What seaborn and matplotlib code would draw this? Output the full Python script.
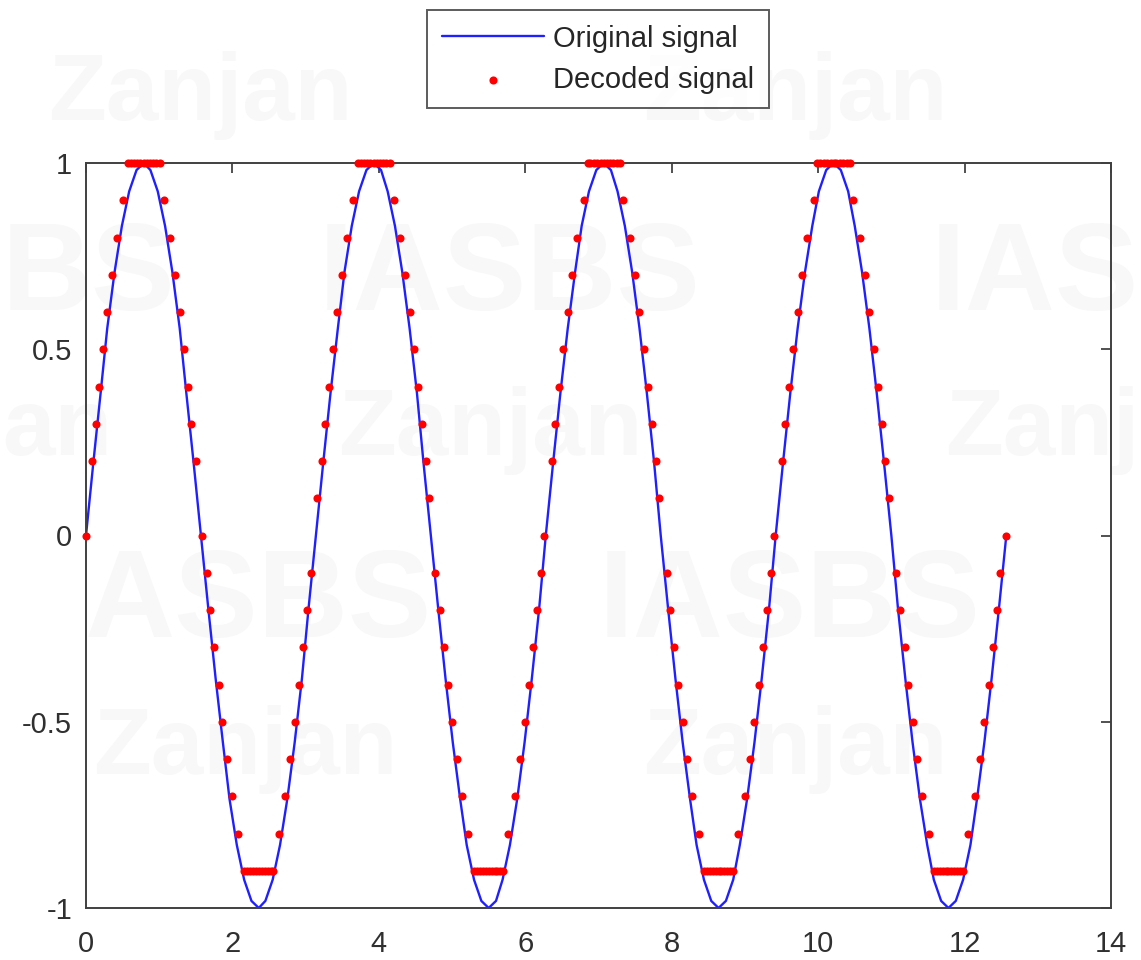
#!/usr/bin/env python3

import matplotlib
matplotlib.use('Agg')
import matplotlib.pyplot as plt     # drawing
import seaborn as sns               # plotting
import pandas as pd                 # data handling


# Original signal, sampled along the time axis
orig_t = [0.00, 0.10, 0.20, 0.29, 0.39, 0.49, 0.59, 0.69, 0.79, 0.88, 0.98, 1.08, 1.18, 1.28, 1.37, 1.47,
          1.57, 1.67, 1.77, 1.87, 1.96, 2.06, 2.16, 2.26, 2.36, 2.45, 2.55, 2.65, 2.75, 2.85, 2.95, 3.04,
          3.14, 3.24, 3.34, 3.44, 3.53, 3.63, 3.73, 3.83, 3.93, 4.03, 4.12, 4.22, 4.32, 4.42, 4.52, 4.61,
          4.71, 4.81, 4.91, 5.01, 5.11, 5.20, 5.30, 5.40, 5.50, 5.60, 5.69, 5.79, 5.89, 5.99, 6.09, 6.19,
          6.28, 6.38, 6.48, 6.58, 6.68, 6.77, 6.87, 6.97, 7.07, 7.17, 7.26, 7.36, 7.46, 7.56, 7.66, 7.76,
          7.85, 7.95, 8.05, 8.15, 8.25, 8.34, 8.44, 8.54, 8.64, 8.74, 8.84, 8.93, 9.03, 9.13, 9.23, 9.33,
          9.42, 9.52, 9.62, 9.72, 9.82, 9.92, 10.01, 10.11, 10.21, 10.31, 10.41, 10.50, 10.60, 10.70, 10.80, 10.90,
          11.00, 11.09, 11.19, 11.29, 11.39, 11.49, 11.58, 11.68, 11.78, 11.88, 11.98, 12.08, 12.17, 12.27, 12.37, 12.47,
          12.57]
orig_y = [0, 0.195, 0.383, 0.556, 0.707, 0.831, 0.924, 0.981, 1, 0.981, 0.924, 0.831, 0.707, 0.556, 0.383, 0.195,
          0, -0.195, -0.383, -0.556, -0.707, -0.831, -0.924, -0.981, -1, -0.981, -0.924, -0.831, -0.707, -0.556, -0.383, -0.195,
          0, 0.195, 0.383, 0.556, 0.707, 0.831, 0.924, 0.981, 1, 0.981, 0.924, 0.831, 0.707, 0.556, 0.383, 0.195,
          0, -0.195, -0.383, -0.556, -0.707, -0.831, -0.924, -0.981, -1, -0.981, -0.924, -0.831, -0.707, -0.556, -0.383, -0.195,
          0, 0.195, 0.383, 0.556, 0.707, 0.831, 0.924, 0.981, 1, 0.981, 0.924, 0.831, 0.707, 0.556, 0.383, 0.195,
          0, -0.195, -0.383, -0.556, -0.707, -0.831, -0.924, -0.981, -1, -0.981, -0.924, -0.831, -0.707, -0.556, -0.383, -0.195,
          0, 0.195, 0.383, 0.556, 0.707, 0.831, 0.924, 0.981, 1, 0.981, 0.924, 0.831, 0.707, 0.556, 0.383, 0.195,
          0, -0.195, -0.383, -0.556, -0.707, -0.831, -0.924, -0.981, -1, -0.981, -0.924, -0.831, -0.707, -0.556, -0.383, -0.195,
          0]

# Decoded (quantised) signal, one entry per visible dot
dec_t = [0.00, 0.08, 0.13, 0.18, 0.23, 0.29, 0.36, 0.43, 0.51,                                   # rise
         0.57, 0.61, 0.65, 0.70, 0.74, 0.79, 0.83, 0.87, 0.92, 0.96, 1.01,                         # peak
         1.06, 1.15, 1.22, 1.28, 1.34, 1.39, 1.44, 1.50, 1.58, 1.65, 1.70, 1.75, 1.81, 1.86, 1.93, 2.00, 2.08,
         2.16, 2.20, 2.24, 2.28, 2.32, 2.36, 2.40, 2.44, 2.48, 2.52, 2.56,                         # trough
         2.63, 2.72, 2.79, 2.85, 2.91, 2.96, 3.02, 3.07, 3.16, 3.22, 3.27, 3.32, 3.38, 3.43, 3.50, 3.57, 3.65,
         3.71, 3.75, 3.80, 3.84, 3.88, 3.93, 3.97, 4.02, 4.06, 4.10, 4.15,
         4.20, 4.29, 4.36, 4.42, 4.48, 4.53, 4.59, 4.64, 4.69, 4.77, 4.84, 4.89, 4.95, 5.00, 5.07, 5.14, 5.22,
         5.30, 5.34, 5.38, 5.42, 5.46, 5.50, 5.54, 5.58, 5.62, 5.66, 5.70,
         5.77, 5.86, 5.93, 5.99, 6.05, 6.10, 6.16, 6.21, 6.26, 6.36, 6.41, 6.46, 6.52, 6.58, 6.64, 6.71, 6.80,
         6.85, 6.89, 6.94, 6.98, 7.03, 7.07, 7.11, 7.16, 7.20, 7.25, 7.29,
         7.34, 7.43, 7.50, 7.56, 7.62, 7.68, 7.73, 7.78, 7.83, 7.93, 7.98, 8.03, 8.09, 8.15, 8.21, 8.28, 8.37,
         8.44, 8.48, 8.52, 8.56, 8.60, 8.64, 8.68, 8.72, 8.76, 8.80, 8.84,
         8.91, 9.00, 9.07, 9.13, 9.19, 9.25, 9.30, 9.35, 9.40, 9.50, 9.55, 9.60, 9.66, 9.72, 9.78, 9.85, 9.94,
         9.99, 10.03, 10.08, 10.12, 10.17, 10.21, 10.25, 10.30, 10.34, 10.39, 10.43,
         10.48, 10.57, 10.64, 10.70, 10.76, 10.82, 10.87, 10.92, 10.97, 11.07, 11.12, 11.18, 11.23, 11.29, 11.35, 11.42, 11.51,
         11.58, 11.62, 11.66, 11.70, 11.74, 11.78, 11.82, 11.86, 11.90, 11.94, 11.98,
         12.05, 12.14, 12.21, 12.27, 12.33, 12.39, 12.44, 12.49, 12.57]
dec_y = [0, 0.2, 0.3, 0.4, 0.5, 0.6, 0.7, 0.8, 0.9,
         1, 1, 1, 1, 1, 1, 1, 1, 1, 1, 1,
         0.9, 0.8, 0.7, 0.6, 0.5, 0.4, 0.3, 0.2, 0, -0.1, -0.2, -0.3, -0.4, -0.5, -0.6, -0.7, -0.8,
         -0.9, -0.9, -0.9, -0.9, -0.9, -0.9, -0.9, -0.9, -0.9, -0.9, -0.9,
         -0.8, -0.7, -0.6, -0.5, -0.4, -0.3, -0.2, -0.1, 0.1, 0.2, 0.3, 0.4, 0.5, 0.6, 0.7, 0.8, 0.9,
         1, 1, 1, 1, 1, 1, 1, 1, 1, 1, 1,
         0.9, 0.8, 0.7, 0.6, 0.5, 0.4, 0.3, 0.2, 0.1, -0.1, -0.2, -0.3, -0.4, -0.5, -0.6, -0.7, -0.8,
         -0.9, -0.9, -0.9, -0.9, -0.9, -0.9, -0.9, -0.9, -0.9, -0.9, -0.9,
         -0.8, -0.7, -0.6, -0.5, -0.4, -0.3, -0.2, -0.1, 0, 0.2, 0.3, 0.4, 0.5, 0.6, 0.7, 0.8, 0.9,
         1, 1, 1, 1, 1, 1, 1, 1, 1, 1, 1,
         0.9, 0.8, 0.7, 0.6, 0.5, 0.4, 0.3, 0.2, 0.1, -0.1, -0.2, -0.3, -0.4, -0.5, -0.6, -0.7, -0.8,
         -0.9, -0.9, -0.9, -0.9, -0.9, -0.9, -0.9, -0.9, -0.9, -0.9, -0.9,
         -0.8, -0.7, -0.6, -0.5, -0.4, -0.3, -0.2, -0.1, 0, 0.2, 0.3, 0.4, 0.5, 0.6, 0.7, 0.8, 0.9,
         1, 1, 1, 1, 1, 1, 1, 1, 1, 1, 1,
         0.9, 0.8, 0.7, 0.6, 0.5, 0.4, 0.3, 0.2, 0.1, -0.1, -0.2, -0.3, -0.4, -0.5, -0.6, -0.7, -0.8,
         -0.9, -0.9, -0.9, -0.9, -0.9, -0.9, -0.9, -0.9, -0.9, -0.9, -0.9,
         -0.8, -0.7, -0.6, -0.5, -0.4, -0.3, -0.2, -0.1, 0]

x_ticks = [0, 2, 4, 6, 8, 10, 12, 14]
y_ticks = [-1, -0.5, 0, 0.5, 1]
series_names = ['Original signal', 'Decoded signal']

# faint background watermark: (text, x px, y px, size, horizontal anchor)
watermark = [('Zanjan', 200, 95, 68, 'center'), ('Zanjan', 795, 95, 68, 'center'),
             ('BS', 2, 278, 90, 'left'), ('IASBS', 510, 278, 90, 'center'), ('IAS', 1139, 278, 90, 'right'),
             ('an', 2, 430, 68, 'left'), ('Zanjan', 490, 430, 68, 'center'), ('Zanj', 1139, 430, 68, 'right'),
             ('ASBS', 85, 605, 90, 'left'), ('IASBS', 790, 605, 90, 'center'),
             ('Zanjan', 245, 750, 68, 'center'), ('Zanjan', 795, 750, 68, 'center')]


def main():
    sns.set_theme(style='white')
    plt.rcParams['font.family'] = ['Liberation Sans', 'DejaVu Sans']
    plt.rcParams['axes.unicode_minus'] = False

    W, H = 1141, 960
    fig = plt.figure(figsize=(W / 100, H / 100), dpi=100)
    fig.patch.set_facecolor('white')

    for txt, px, py, size, anchor in watermark:
        fig.text(px / W, 1 - py / H, txt, ha=anchor, va='center', fontsize=size,
                 fontweight='bold', color='#f8f8f8', zorder=-5)

    ax = fig.add_axes([86 / W, 1 - 908 / H, (1111 - 86) / W, (908 - 163) / H])
    ax.patch.set_alpha(0)

    orig = pd.DataFrame({'t': orig_t, 'y': orig_y})
    dec = pd.DataFrame({'t': dec_t, 'y': dec_y})

    sns.lineplot(data=orig, x='t', y='y', ax=ax, color='#2020ff', linewidth=1.7,
                 sort=False, estimator=None, label=series_names[0])
    sns.scatterplot(data=dec, x='t', y='y', ax=ax, color='#ff0000', s=34,
                    linewidth=0, clip_on=False, zorder=3, label=series_names[1])

    ax.set_xlim(0, 14)
    ax.set_ylim(-1, 1)
    ax.set_xticks(x_ticks)
    ax.set_xticklabels([f'{v:g}' for v in x_ticks])
    ax.set_yticks(y_ticks)
    ax.set_yticklabels([f'{v:g}' for v in y_ticks])
    ax.set_xlabel('')
    ax.set_ylabel('')

    ax.tick_params(axis='both', direction='in', length=7, width=1.2, color='#333333',
                   labelcolor='#303030', labelsize=21, top=True, right=True)
    ax.tick_params(axis='x', pad=16)
    ax.tick_params(axis='y', pad=10)
    for sp in ax.spines.values():
        sp.set_color('#404040')
        sp.set_linewidth(1.4)
        sp.set_visible(True)

    leg = ax.legend(loc='upper center', bbox_to_anchor=(598 / W, 1 - 10 / H),
                    bbox_transform=fig.transFigure, fontsize=21, frameon=True,
                    fancybox=False, handlelength=3.5, handletextpad=0.3,
                    borderpad=0.5, labelspacing=0.45, borderaxespad=0)
    leg.get_frame().set_edgecolor('#333333')
    leg.get_frame().set_linewidth(1.4)
    for t in leg.get_texts():
        t.set_color('#262626')

    plt.savefig('out.png', dpi=100)


if __name__ == '__main__':
    main()
